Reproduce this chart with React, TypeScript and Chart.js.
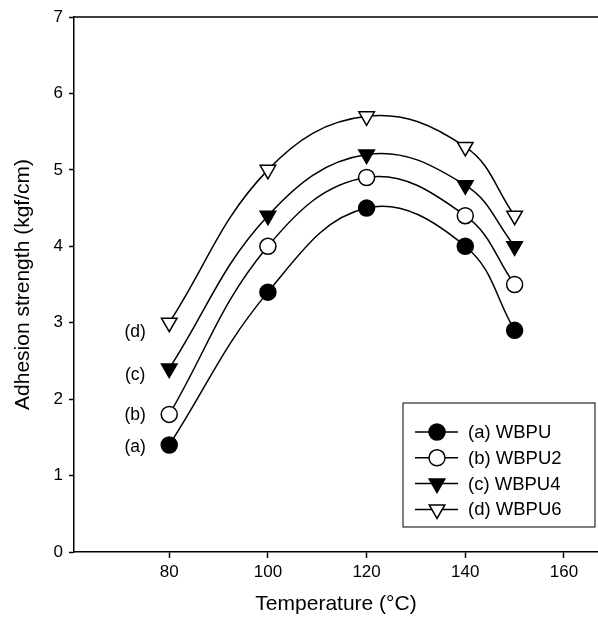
import React, { useEffect, useRef } from 'react';
import { Chart, registerables } from 'chart.js';
import { drawPoint } from 'chart.js/helpers';

Chart.register(...registerables);

const temperatures = [80, 100, 120, 140, 150];
const wbpu = [1.4, 3.4, 4.5, 4.0, 2.9];
const wbpu2 = [1.8, 4.0, 4.9, 4.4, 3.5];
const wbpu4 = [2.4, 4.4, 5.2, 4.8, 4.0];
const wbpu6 = [3.0, 5.0, 5.7, 5.3, 4.4];
const seriesLabels = ['(a) WBPU', '(b) WBPU2', '(c) WBPU4', '(d) WBPU6'];
const pointTags = ['(a)', '(b)', '(c)', '(d)'];
const xTicks = [80, 100, 120, 140, 160];
const yTicks = [0, 1, 2, 3, 4, 5, 6, 7];

const FONT = 'Liberation Sans, Arial, Helvetica, sans-serif';

export default function App() {
  const ref = useRef<HTMLCanvasElement | null>(null);

  useEffect(() => {
    if (!ref.current) return;
    const series = [wbpu, wbpu2, wbpu4, wbpu6];
    const styles = [
      { pointStyle: 'circle', radius: 8, rotation: 0, fill: '#000' },
      { pointStyle: 'circle', radius: 8, rotation: 0, fill: '#fff' },
      { pointStyle: 'triangle', radius: 9, rotation: 180, fill: '#000' },
      { pointStyle: 'triangle', radius: 9, rotation: 180, fill: '#fff' },
    ];
    const tagDy = [2, 1, 7, 9];

    const datasets = series.map((vals, i) => ({
      label: seriesLabels[i],
      data: vals.map((v, j) => ({ x: temperatures[j], y: v })),
      borderColor: '#000',
      borderWidth: 1.5,
      backgroundColor: styles[i].fill,
      pointBackgroundColor: styles[i].fill,
      pointBorderColor: '#000',
      pointBorderWidth: 1.5,
      pointStyle: styles[i].pointStyle as any,
      pointRadius: styles[i].radius,
      pointRotation: styles[i].rotation,
      tension: 0.4,
      fill: false,
    }));

    const framePlugin = {
      id: 'frame',
      afterDraw(chart: any) {
        const { ctx, chartArea } = chart;
        ctx.save();
        ctx.strokeStyle = '#000';
        ctx.lineWidth = 1.5;
        ctx.beginPath();
        ctx.moveTo(chartArea.left, chartArea.top);
        ctx.lineTo(chartArea.right, chartArea.top);
        ctx.stroke();

        // tags next to first points
        ctx.fillStyle = '#000';
        ctx.font = `17.5px ${FONT}`;
        ctx.textAlign = 'center';
        ctx.textBaseline = 'middle';
        chart.data.datasets.forEach((ds: any, i: number) => {
          const meta = chart.getDatasetMeta(i);
          const p = meta.data[0];
          ctx.fillText(pointTags[i], p.x - 34, p.y + tagDy[i]);
        });

        // legend
        const boxR = chartArea.right - 3;
        const boxL = boxR - 192;
        const boxB = chartArea.bottom - 25;
        const boxT = boxB - 124;
        ctx.lineWidth = 1;
        ctx.strokeRect(boxL, boxT, boxR - boxL, boxB - boxT);
        ctx.textAlign = 'left';
        ctx.font = `18.5px ${FONT}`;
        chart.data.datasets.forEach((ds: any, i: number) => {
          const y = boxT + 29 + i * 25.8;
          ctx.strokeStyle = '#000';
          ctx.lineWidth = 1.5;
          ctx.beginPath();
          ctx.moveTo(boxL + 12, y);
          ctx.lineTo(boxL + 55, y);
          ctx.stroke();
          ctx.fillStyle = styles[i].fill;
          drawPoint(ctx, {
            pointStyle: styles[i].pointStyle,
            radius: styles[i].radius,
            rotation: styles[i].rotation,
            borderWidth: 1.5,
          } as any, boxL + 34, y);
          ctx.fillStyle = '#000';
          ctx.fillText(ds.label, boxL + 65, y + 1);
        });
        ctx.restore();
      },
    };

    const chart = new Chart(ref.current, {
      type: 'line',
      data: { datasets },
      options: {
        animation: false,
        responsive: false,
        maintainAspectRatio: false,
        layout: { autoPadding: false, padding: { left: 0, right: 0, top: 17, bottom: 0 } },
        plugins: { legend: { display: false }, tooltip: { enabled: false } },
        scales: {
          x: {
            type: 'linear',
            min: 60.7,
            max: 166.9,
            afterBuildTicks: (scale: any) => {
              scale.ticks = xTicks.map((v) => ({ value: v }));
            },
            afterFit: (scale: any) => {
              scale.height = 67;
              scale.paddingLeft = 0;
              scale.paddingRight = 0;
            },
            grid: { drawOnChartArea: false, drawTicks: true, tickLength: 6, tickColor: '#000', tickWidth: 1.5 },
            border: { display: true, color: '#000', width: 1.5 },
            ticks: { color: '#000', font: { family: FONT, size: 17 }, padding: 4, maxRotation: 0 },
            title: {
              display: true,
              text: 'Temperature (°C)',
              color: '#000',
              font: { family: FONT, size: 21 },
              padding: { top: 0, bottom: 2 },
            },
          },
          y: {
            type: 'linear',
            min: 0,
            max: 7,
            afterBuildTicks: (scale: any) => {
              scale.ticks = yTicks.map((v) => ({ value: v }));
            },
            afterFit: (scale: any) => {
              scale.width = 74;
              scale.paddingTop = 0;
              scale.paddingBottom = 0;
            },
            grid: { drawOnChartArea: false, drawTicks: true, tickLength: 5, tickColor: '#000', tickWidth: 1.5 },
            border: { display: true, color: '#000', width: 1.5 },
            ticks: { color: '#000', font: { family: FONT, size: 17 }, padding: 6 },
            title: {
              display: true,
              text: 'Adhesion strength (kgf/cm)',
              color: '#000',
              font: { family: FONT, size: 21 },
              padding: { top: 11, bottom: 0 },
            },
          },
        },
      },
      plugins: [framePlugin],
    });
    return () => chart.destroy();
  }, []);

  return (
    <div style={{ position: 'absolute', left: 0, top: 0, width: 598, height: 619, background: '#fff' }}>
      <canvas ref={ref} width={598} height={619} style={{ width: 598, height: 619, display: 'block' }} />
    </div>
  );
}
